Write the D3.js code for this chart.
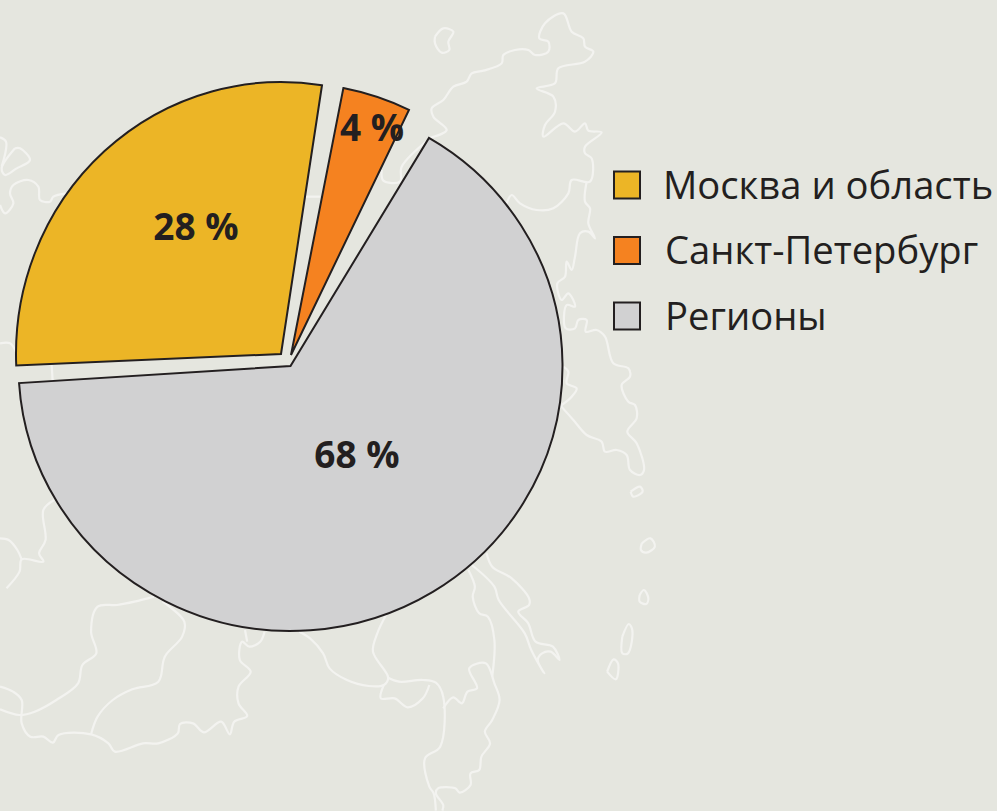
<!DOCTYPE html>
<html>
<head>
<meta charset="utf-8">
<script src="https://cdn.jsdelivr.net/npm/d3@7"></script>
<style>
html, body { margin: 0; padding: 0; background: #e5e6df; }
svg { display: block; }
text { font-family: "Open Sans", "Noto Sans", sans-serif; fill: #231f20; }
</style>
</head>
<body>
<svg id="chart" width="997" height="811"></svg>
<script>
const width = 997
const height = 811

const categories = ["Москва и область", "Санкт-Петербург", "Регионы"]
const shares = [28, 4, 68]
const colors = ["#ecb526", "#f58220", "#d1d1d2"]
const valueLabels = ["28 %", "4 %", "68 %"]

// the slices in the picture are pulled apart and not quite true to the shares,
// so each one gets its own apex, radii and angle correction (degrees)
const apexes = [[281, 354], [291, 355], [290.5, 366]]
const radii = [[265, 272], [272, 272], [272, 265]]
const startFix = [0, 2.7, 7.8]
const endFix = [0.5, 2.9, -1.3]
const labelPos = [[196, 226.5], [372, 128], [357, 454.5]]
const legendY = [185, 250.5, 316]
const legendTextX = [663, 665, 665]

const mapCoastNE = [[25,415],[80,390],[40,350],[35,325],[70,300],[100,260],[140,245],[155,220],[190,212],[245,190],[250,165],[285,150],[325,150],[345,165],[385,155],[385,125],[358,115],[375,70],[430,40],[455,95],[490,115],[495,140],[520,155],[495,185],[415,205],[405,250],[350,265],[400,290],[405,335],[375,375],[370,410],[430,370],[465,395],[495,370],[505,392],[545,397],[495,440],[495,460],[515,475],[510,545],[455,540],[445,580],[400,625],[350,630],[300,610],[275,585],[260,610]]
const mapCoastE = [[500,545],[495,605],[510,625],[505,670],[525,715],[505,695],[480,700],[465,770],[455,810],[440,785],[435,830],[412,850],[425,900],[445,880],[465,920],[440,915],[437,985],[465,985],[475,960],[500,960],[497,995],[530,990],[555,1010],[580,1090],[625,1105],[630,1130],[605,1155],[625,1205],[645,1215],[650,1255],[622,1295],[650,1330],[672,1410],[660,1425],[630,1410],[620,1365],[590,1350],[555,1355],[545,1325],[500,1305],[460,1260],[420,1215]]
const mapCoastE2 = [[430,1100],[445,1115],[440,1150],[470,1165],[455,1190],[425,1215]]
const mapIslandN = [[45,110],[70,85],[100,95],[85,125],[88,150],[65,158],[45,130],[45,110]]
const mapIslandE = [[632,1475],[660,1460],[668,1475],[640,1490],[632,1475]]

const mapA1 = [[125,0],[100,30],[105,120],[90,160],[100,185],[50,178],[45,215],[15,265]]
const mapA2 = [[0,115],[20,120],[40,150],[50,178]]
const mapB = [[355,290],[310,305],[270,315],[225,320],[210,395],[222,460],[190,495],[180,550],[130,600],[80,635],[45,645],[0,628]]
const mapC = [[0,560],[30,575],[50,600],[50,670],[70,710],[100,710],[122,728],[135,705],[210,703],[250,730],[265,755],[330,730],[365,730],[410,700],[415,672],[445,670],[470,697],[510,665],[530,703],[540,665],[570,648],[550,610],[550,560],[578,515],[553,480],[558,425],[575,440],[600,425],[610,395]]
const mapC2 = [[565,390],[570,425]]
const mapD = [[375,305],[425,365],[420,410],[380,470],[365,545],[305,568],[260,600],[225,650],[210,703]]
const mapE = [[690,395],[715,415],[745,460],[760,505],[800,540],[850,558],[885,555],[895,533],[860,455],[870,400],[890,345]]
const mapF = [[895,533],[920,545],[975,540],[1005,548],[1022,590],[1015,740],[980,775],[990,860],[1000,880],[1005,932]]
const mapG = [[885,555],[878,595],[910,595],[940,622],[975,595],[990,555]]
const mapH = [[1022,625],[1045,592],[1065,610],[1078,575],[1100,565],[1082,505],[1120,490],[1140,550],[1152,600],[1135,660],[1118,695],[1130,730],[1110,770],[1105,810],[1085,820],[1085,855],[1060,878],[1050,865],[1010,865],[1005,880],[1022,915],[1020,932]]
const mapI = [[1080,210],[1095,260],[1090,290],[1105,340],[1125,350],[1140,420],[1135,530]]
const mapJ = [[1088,195],[1140,260],[1150,300],[1210,400],[1225,450],[1255,520],[1240,480],[1250,460],[1270,455],[1290,480],[1275,440],[1235,425],[1218,370],[1195,335],[1220,315],[1220,295],[1180,235],[1135,200],[1122,160]]
const mapIsl1 = [[1480,130],[1500,115],[1510,140],[1490,158],[1478,150],[1480,130]]
const mapIsl2 = [[1475,285],[1485,270],[1495,295],[1490,312],[1475,305],[1475,285]]
const mapIsl3 = [[1435,410],[1450,372],[1458,390],[1448,460],[1435,460],[1435,410]]
const mapIsl4 = [[1400,515],[1415,478],[1425,490],[1420,538],[1400,515]]

const mapNW1 = [[0,232],[18,245],[5,320]]
const mapNW2 = [[45,265],[60,265],[90,300],[50,325],[15,345],[5,325],[45,265]]
const mapNW3 = [[200,400],[160,410],[150,425],[120,420],[115,380],[85,360],[40,375],[30,400],[40,430],[15,460],[0,435]]
const mapNW4 = [[0,850],[30,850],[50,880]]
const mapNW5 = [[155,915],[158,965]]
const mapNW6 = [[915,410],[960,410]]
const mapNW7 = [[1145,330],[1150,362],[1200,365],[1205,320],[1290,235]]

// crop: x scale, y scale, x offset, y offset
const crop3 = [1 / 3, 1 / 3, 420, 0]
const crop4 = [680 / 1568, 1 / 3, 0, 500]
const crop1 = [1 / 3, 1 / 3, 0, 60]

const mapGroups = [
    [crop3, [mapCoastNE, mapCoastE, mapCoastE2, mapIslandN, mapIslandE]],
    [crop4, [mapA1, mapA2, mapB, mapC, mapC2, mapD, mapE, mapF, mapG, mapH, mapI, mapJ, mapIsl1, mapIsl2, mapIsl3, mapIsl4]],
    [crop1, [mapNW1, mapNW2, mapNW3, mapNW4, mapNW5, mapNW6, mapNW7]]
]

const svg = d3.select("#chart")

svg.append("rect")
    .attr("width", width)
    .attr("height", height)
    .attr("fill", "#e5e6df")

const mapLine = d3.line().curve(d3.curveCatmullRom.alpha(0.5))
const mapLayer = svg.append("g")
    .attr("fill", "none")
    .attr("stroke", "#f3f3f0")
    .attr("stroke-width", 2.2)
    .attr("stroke-linejoin", "round")

mapGroups.forEach(function (group) {
    let crop = group[0]
    group[1].forEach(function (pts) {
        mapLayer.append("path")
            .attr("d", mapLine(pts.map(function (p) { return [crop[2] + p[0] * crop[0], crop[3] + p[1] * crop[1]] })))
    })
})

// pie
const rad = Math.PI / 180
const pie = d3.pie()
    .sort(null)
    .startAngle(-92.4 * rad)
    .endAngle(267.6 * rad)

const arc = d3.arc().innerRadius(0).outerRadius(268)

svg.append("g")
    .selectAll("path")
    .data(pie(shares))
    .enter()
    .append("path")
    .attr("transform", function (d, i) {
        return "translate(" + apexes[i] + ") scale(" + radii[i][0] / 268 + "," + radii[i][1] / 268 + ")"
    })
    .attr("d", function (d, i) {
        return arc({ startAngle: d.startAngle + startFix[i] * rad, endAngle: d.endAngle + endFix[i] * rad })
    })
    .attr("fill", function (d, i) { return colors[i] })
    .attr("stroke", "#231f20")
    .attr("stroke-width", 2)
    .attr("stroke-linejoin", "miter")
    .attr("vector-effect", "non-scaling-stroke")

svg.append("g")
    .selectAll("text")
    .data(valueLabels)
    .enter()
    .append("text")
    .attr("x", function (d, i) { return labelPos[i][0] })
    .attr("y", function (d, i) { return labelPos[i][1] })
    .attr("dy", "0.36em")
    .attr("text-anchor", "middle")
    .attr("font-size", 37)
    .attr("font-weight", 700)
    .text(function (d) { return d })

// legend
const legend = svg.append("g")
    .selectAll("g")
    .data(categories)
    .enter()
    .append("g")

legend.append("rect")
    .attr("x", 614)
    .attr("y", function (d, i) { return legendY[i] - 13.5 })
    .attr("width", 26)
    .attr("height", 27)
    .attr("fill", function (d, i) { return colors[i] })
    .attr("stroke", "#231f20")
    .attr("stroke-width", 2)

legend.append("text")
    .attr("x", function (d, i) { return legendTextX[i] })
    .attr("y", function (d, i) { return legendY[i] })
    .attr("dy", "0.36em")
    .attr("font-size", 38.2)
    .text(function (d) { return d })
</script>
</body>
</html>
